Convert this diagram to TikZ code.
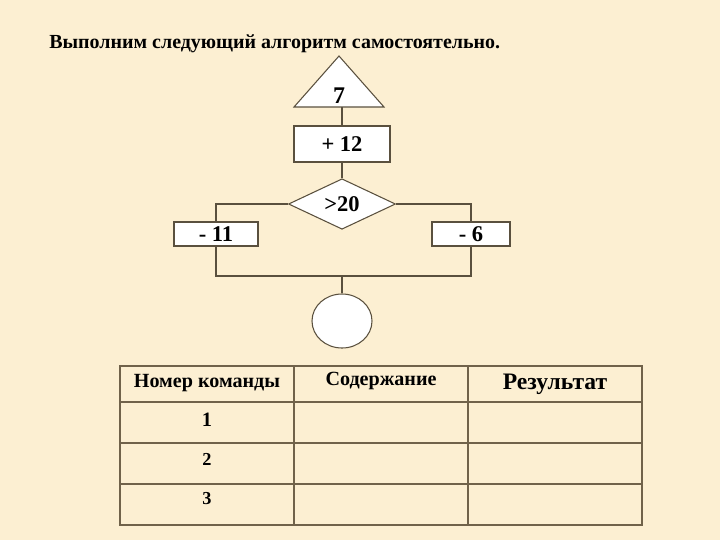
\documentclass[tikz,border=0pt]{standalone}
\usepackage{fontspec}
\setmainfont{Liberation Serif}
\usetikzlibrary{shapes.geometric,positioning}
\definecolor{paper}{RGB}{252,239,210}
\definecolor{ink}{RGB}{90,80,62}
\definecolor{gridline}{RGB}{112,98,74}

\begin{document}
\begin{tikzpicture}[x=0.025cm,y=-0.025cm]
\tikzset{
  flowline/.style={draw=ink,line width=0.75pt,line join=miter},
  procbox/.style={rectangle,draw=ink,fill=white,line width=0.75pt,inner sep=0pt,font=\bfseries\fontsize{16}{19}\selectfont},
  condbox/.style={diamond,draw=ink,fill=white,line width=0.75pt,inner sep=0pt,minimum width=2.675cm,minimum height=1.2cm,font=\bfseries\fontsize{16}{19}\selectfont},
  endbox/.style={ellipse,draw=ink,fill=white,line width=0.75pt,minimum width=1.5cm,minimum height=1.35cm},
  tablehead/.style={font=\bfseries\fontsize{14.3}{17}\selectfont,inner sep=0pt},
  tablecell/.style={font=\bfseries\fontsize{13}{15}\selectfont,inner sep=0pt}
}
\fill[paper] (0,0) rectangle (720,540);
\useasboundingbox (0,0) rectangle (720,540);
% title
\node[anchor=west,inner sep=0pt,font=\bfseries\fontsize{14.2}{17}\selectfont] (n_title) at (49,44) {Выполним следующий алгоритм самостоятельно.};
% flowchart
\filldraw[flowline,fill=white] (339,56) -- (384,107) -- (294,107) -- cycle;
\node[inner sep=0pt,font=\bfseries\fontsize{17}{20}\selectfont] (n_start) at (339,96) {7};
\coordinate (n_start_base) at (342,107);
\node[procbox,minimum width=2.4cm,minimum height=0.9cm] (n_add) at (342,144) {+ 12};
\node[condbox] (n_cond) at (342,204) {>20};
\node[procbox,minimum width=2.1cm,minimum height=0.6cm] (n_left) at (216,234) {- 11};
\node[procbox,minimum width=1.95cm,minimum height=0.6cm] (n_right) at (471,234) {- 6};
\coordinate (j_mid) at (342,276);
\node[endbox] (n_end) at (342,321) {};
\draw[flowline] (n_start_base) -- (n_add);
\draw[flowline] (n_add) -- (n_cond);
\draw[flowline] (n_cond.west) -| (n_left);
\draw[flowline] (n_cond.east) -| (n_right);
\draw[flowline] (n_left) |- (j_mid) -| (n_right);
\draw[flowline] (j_mid) -- (n_end);
% table
\draw[gridline,line width=1.3pt] (120,366) rectangle (642,525);
\foreach \xx in {294,468}
  \draw[gridline,line width=1.3pt] (\xx,366) -- (\xx,525);
\foreach \yy in {402,443,484}
  \draw[gridline,line width=1.3pt] (120,\yy) -- (642,\yy);
\node[tablehead] (h_num) at (207,383) {Номер команды};
\node[tablehead] (h_body) at (381,381) {Содержание};
\node[tablehead,font=\bfseries\fontsize{16.8}{20}\selectfont] (h_res) at (555,384) {Результат};
\node[tablecell,font=\bfseries\fontsize{14.5}{17}\selectfont] (r_one) at (207,420) {1};
\node[tablecell] (r_two) at (207,459) {2};
\node[tablecell] (r_three) at (207,499) {3};
\end{tikzpicture}
\end{document}
